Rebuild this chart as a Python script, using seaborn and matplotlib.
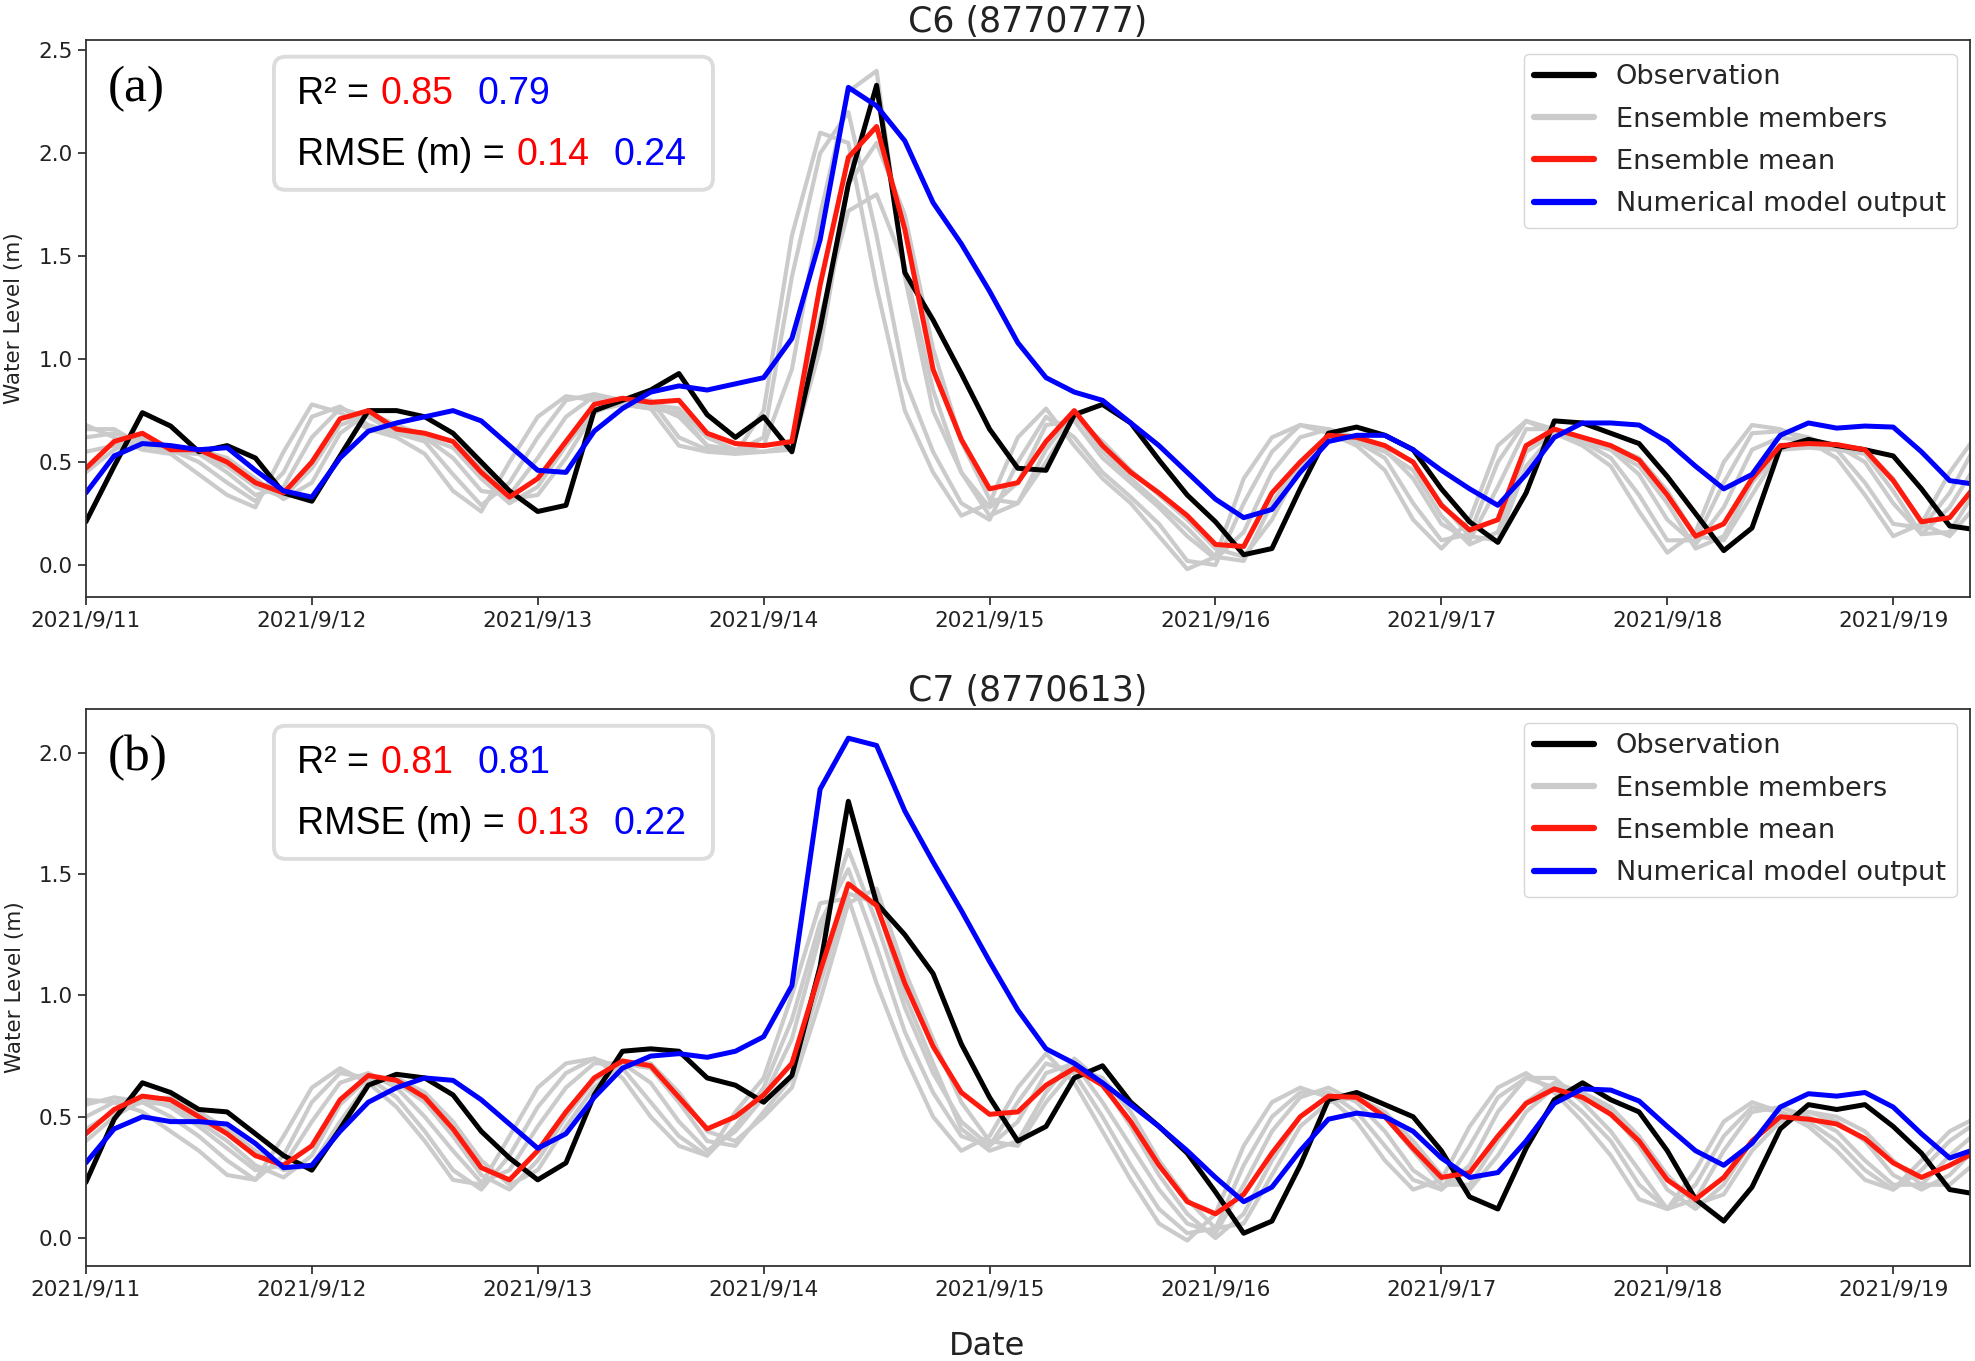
import pandas as pd
import seaborn as sns
import matplotlib.pyplot as plt
import matplotlib.dates as mdates
from matplotlib.lines import Line2D
from matplotlib.patches import FancyBboxPatch

# water levels, 3-hourly from 2021-09-11 00:00
times = pd.date_range("2021-09-11 00:00", periods=68, freq="3h")

c6_obs = [0.21, 0.48, 0.74, 0.675, 0.55, 0.58, 0.52, 0.35, 0.31, 0.53,
          0.75, 0.75, 0.72, 0.64, 0.50, 0.36, 0.26, 0.29, 0.75, 0.80,
          0.85, 0.93, 0.73, 0.62, 0.72, 0.55, 1.15, 1.85, 2.33, 1.42,
          1.19, 0.93, 0.66, 0.47, 0.46, 0.73, 0.78, 0.69, 0.51, 0.34,
          0.21, 0.05, 0.08, 0.37, 0.64, 0.67, 0.63, 0.56, 0.37, 0.21,
          0.11, 0.35, 0.70, 0.69, 0.64, 0.59, 0.43, 0.25, 0.07, 0.18,
          0.57, 0.61, 0.58, 0.56, 0.53, 0.37, 0.19, 0.17]
c6_mean = [0.47, 0.60, 0.64, 0.56, 0.56, 0.50, 0.40, 0.35, 0.50, 0.71,
           0.75, 0.66, 0.64, 0.60, 0.45, 0.33, 0.42, 0.60, 0.78, 0.81,
           0.79, 0.80, 0.64, 0.59, 0.58, 0.60, 1.36, 1.98, 2.13, 1.63,
           0.95, 0.61, 0.37, 0.40, 0.60, 0.75, 0.58, 0.45, 0.35, 0.24,
           0.10, 0.09, 0.35, 0.50, 0.63, 0.62, 0.58, 0.50, 0.29, 0.17,
           0.22, 0.58, 0.66, 0.62, 0.58, 0.51, 0.34, 0.14, 0.20, 0.42,
           0.58, 0.59, 0.585, 0.56, 0.41, 0.21, 0.23, 0.40]
c6_model = [0.35, 0.53, 0.59, 0.58, 0.56, 0.57, 0.46, 0.36, 0.33, 0.52,
            0.65, 0.69, 0.72, 0.75, 0.70, 0.58, 0.46, 0.45, 0.65, 0.76,
            0.84, 0.87, 0.85, 0.88, 0.91, 1.10, 1.58, 2.32, 2.23, 2.06,
            1.76, 1.56, 1.33, 1.08, 0.91, 0.84, 0.80, 0.69, 0.58, 0.45,
            0.32, 0.23, 0.27, 0.45, 0.60, 0.63, 0.63, 0.56, 0.46, 0.37,
            0.29, 0.44, 0.62, 0.69, 0.69, 0.68, 0.60, 0.48, 0.37, 0.44,
            0.63, 0.69, 0.665, 0.675, 0.67, 0.55, 0.41, 0.39]
c6_member_1 = [0.66, 0.66, 0.58, 0.56, 0.50, 0.40, 0.31, 0.45, 0.72, 0.77,
               0.68, 0.64, 0.60, 0.44, 0.29, 0.40, 0.62, 0.80, 0.83, 0.80,
               0.80, 0.62, 0.56, 0.55, 0.62, 1.40, 2.00, 2.20, 1.60, 0.90,
               0.55, 0.30, 0.22, 0.50, 0.72, 0.62, 0.45, 0.33, 0.20, 0.02,
               0.00, 0.30, 0.55, 0.68, 0.66, 0.60, 0.52, 0.30, 0.12, 0.15,
               0.50, 0.70, 0.66, 0.60, 0.52, 0.34, 0.12, 0.12, 0.40, 0.64,
               0.65, 0.62, 0.56, 0.40, 0.20, 0.18, 0.35, 0.60]
c6_member_2 = [0.62, 0.64, 0.60, 0.55, 0.54, 0.45, 0.34, 0.38, 0.62, 0.76,
               0.72, 0.64, 0.62, 0.52, 0.36, 0.34, 0.52, 0.72, 0.82, 0.80,
               0.78, 0.72, 0.58, 0.56, 0.58, 0.95, 1.70, 2.30, 2.40, 1.40,
               0.75, 0.45, 0.28, 0.40, 0.68, 0.70, 0.52, 0.40, 0.28, 0.14,
               0.03, 0.16, 0.45, 0.62, 0.66, 0.62, 0.56, 0.42, 0.20, 0.12,
               0.38, 0.66, 0.66, 0.62, 0.56, 0.44, 0.22, 0.10, 0.28, 0.56,
               0.62, 0.60, 0.58, 0.50, 0.30, 0.15, 0.28, 0.50]
c6_member_3 = [0.55, 0.58, 0.60, 0.55, 0.54, 0.48, 0.38, 0.33, 0.47, 0.68,
               0.73, 0.64, 0.62, 0.57, 0.42, 0.30, 0.38, 0.58, 0.75, 0.78,
               0.76, 0.74, 0.58, 0.54, 0.55, 0.58, 1.20, 1.72, 1.80, 1.45,
               0.85, 0.45, 0.24, 0.30, 0.56, 0.74, 0.55, 0.42, 0.30, 0.18,
               0.04, 0.02, 0.30, 0.50, 0.62, 0.60, 0.55, 0.46, 0.24, 0.10,
               0.16, 0.55, 0.64, 0.60, 0.56, 0.48, 0.30, 0.08, 0.14, 0.40,
               0.56, 0.57, 0.56, 0.54, 0.36, 0.15, 0.16, 0.38]
c6_member_4 = [0.68, 0.62, 0.56, 0.54, 0.44, 0.34, 0.28, 0.55, 0.78, 0.74,
               0.66, 0.62, 0.54, 0.36, 0.26, 0.50, 0.72, 0.82, 0.80, 0.78,
               0.76, 0.58, 0.55, 0.54, 0.75, 1.60, 2.10, 2.05, 1.35, 0.75,
               0.45, 0.24, 0.30, 0.62, 0.76, 0.58, 0.42, 0.30, 0.14, -0.02,
               0.04, 0.42, 0.62, 0.68, 0.64, 0.58, 0.46, 0.22, 0.08, 0.22,
               0.58, 0.70, 0.64, 0.58, 0.48, 0.26, 0.06, 0.16, 0.50, 0.68,
               0.66, 0.60, 0.52, 0.34, 0.14, 0.20, 0.45, 0.64]
c6_member_5 = [0.45, 0.56, 0.62, 0.57, 0.56, 0.52, 0.42, 0.32, 0.40, 0.64,
               0.74, 0.68, 0.63, 0.60, 0.48, 0.32, 0.34, 0.52, 0.74, 0.80,
               0.78, 0.76, 0.62, 0.56, 0.55, 0.56, 1.05, 1.85, 2.05, 1.70,
               1.05, 0.60, 0.32, 0.30, 0.50, 0.72, 0.60, 0.46, 0.34, 0.22,
               0.08, 0.04, 0.22, 0.48, 0.62, 0.62, 0.58, 0.50, 0.30, 0.14,
               0.12, 0.48, 0.64, 0.62, 0.58, 0.52, 0.36, 0.14, 0.12, 0.34,
               0.56, 0.58, 0.57, 0.56, 0.42, 0.20, 0.14, 0.30]

c7_obs = [0.23, 0.49, 0.64, 0.60, 0.53, 0.52, 0.43, 0.34, 0.28, 0.45,
          0.63, 0.675, 0.66, 0.59, 0.44, 0.33, 0.24, 0.31, 0.59, 0.77,
          0.78, 0.77, 0.66, 0.63, 0.56, 0.67, 1.12, 1.80, 1.38, 1.25,
          1.09, 0.80, 0.58, 0.40, 0.46, 0.66, 0.71, 0.56, 0.46, 0.35,
          0.19, 0.02, 0.07, 0.30, 0.57, 0.60, 0.55, 0.50, 0.36, 0.17,
          0.12, 0.37, 0.57, 0.64, 0.57, 0.52, 0.36, 0.16, 0.07, 0.21,
          0.45, 0.55, 0.53, 0.55, 0.46, 0.35, 0.20, 0.18]
c7_mean = [0.43, 0.53, 0.585, 0.57, 0.50, 0.43, 0.34, 0.30, 0.38, 0.57,
           0.67, 0.65, 0.58, 0.45, 0.29, 0.24, 0.36, 0.52, 0.66, 0.73,
           0.71, 0.58, 0.45, 0.50, 0.59, 0.72, 1.10, 1.46, 1.37, 1.05,
           0.79, 0.60, 0.51, 0.52, 0.63, 0.70, 0.63, 0.48, 0.30, 0.15,
           0.10, 0.18, 0.35, 0.50, 0.585, 0.58, 0.50, 0.37, 0.25, 0.27,
           0.42, 0.555, 0.615, 0.58, 0.51, 0.40, 0.24, 0.16, 0.25, 0.40,
           0.50, 0.49, 0.47, 0.41, 0.31, 0.25, 0.30, 0.36]
c7_model = [0.31, 0.45, 0.50, 0.48, 0.48, 0.47, 0.39, 0.29, 0.30, 0.44,
            0.56, 0.62, 0.66, 0.65, 0.57, 0.47, 0.37, 0.43, 0.58, 0.70,
            0.75, 0.76, 0.745, 0.77, 0.83, 1.04, 1.85, 2.06, 2.03, 1.76,
            1.55, 1.35, 1.14, 0.94, 0.78, 0.72, 0.64, 0.55, 0.46, 0.36,
            0.25, 0.15, 0.21, 0.36, 0.49, 0.515, 0.50, 0.44, 0.33, 0.25,
            0.27, 0.40, 0.555, 0.615, 0.61, 0.565, 0.46, 0.36, 0.30, 0.39,
            0.54, 0.595, 0.585, 0.60, 0.54, 0.43, 0.33, 0.37]
c7_member_1 = [0.55, 0.58, 0.56, 0.50, 0.42, 0.32, 0.24, 0.34, 0.56, 0.68,
               0.66, 0.58, 0.44, 0.28, 0.20, 0.34, 0.54, 0.68, 0.74, 0.70,
               0.56, 0.42, 0.34, 0.46, 0.62, 0.90, 1.30, 1.52, 1.20, 0.85,
               0.60, 0.42, 0.38, 0.56, 0.72, 0.68, 0.50, 0.30, 0.12, 0.02,
               0.04, 0.30, 0.50, 0.60, 0.60, 0.52, 0.38, 0.24, 0.20, 0.38,
               0.58, 0.66, 0.62, 0.52, 0.40, 0.22, 0.12, 0.22, 0.42, 0.54,
               0.52, 0.48, 0.40, 0.28, 0.20, 0.28, 0.40, 0.48]
c7_member_2 = [0.50, 0.56, 0.58, 0.54, 0.46, 0.37, 0.28, 0.30, 0.48, 0.64,
               0.68, 0.62, 0.50, 0.36, 0.23, 0.28, 0.46, 0.62, 0.72, 0.72,
               0.64, 0.48, 0.36, 0.44, 0.58, 0.82, 1.25, 1.60, 1.30, 0.95,
               0.68, 0.48, 0.38, 0.48, 0.68, 0.72, 0.56, 0.38, 0.20, 0.06,
               0.02, 0.22, 0.44, 0.58, 0.62, 0.56, 0.44, 0.28, 0.20, 0.30,
               0.52, 0.66, 0.66, 0.56, 0.44, 0.28, 0.12, 0.16, 0.36, 0.52,
               0.54, 0.50, 0.44, 0.32, 0.22, 0.22, 0.34, 0.44]
c7_member_3 = [0.45, 0.52, 0.56, 0.55, 0.48, 0.40, 0.30, 0.25, 0.34, 0.55,
               0.66, 0.64, 0.56, 0.42, 0.26, 0.20, 0.32, 0.50, 0.65, 0.72,
               0.70, 0.56, 0.40, 0.38, 0.52, 0.66, 1.05, 1.42, 1.38, 1.00,
               0.72, 0.45, 0.36, 0.40, 0.60, 0.74, 0.64, 0.46, 0.26, 0.10,
               0.00, 0.10, 0.32, 0.50, 0.58, 0.58, 0.50, 0.36, 0.22, 0.22,
               0.40, 0.56, 0.64, 0.60, 0.52, 0.38, 0.20, 0.12, 0.22, 0.40,
               0.50, 0.52, 0.48, 0.40, 0.26, 0.20, 0.26, 0.38]
c7_member_4 = [0.57, 0.56, 0.52, 0.44, 0.36, 0.26, 0.24, 0.42, 0.62, 0.70,
               0.64, 0.54, 0.40, 0.24, 0.22, 0.42, 0.62, 0.72, 0.74, 0.66,
               0.50, 0.38, 0.34, 0.52, 0.66, 1.00, 1.38, 1.40, 1.05, 0.75,
               0.50, 0.36, 0.42, 0.62, 0.76, 0.64, 0.44, 0.24, 0.06, -0.01,
               0.10, 0.38, 0.56, 0.62, 0.58, 0.48, 0.32, 0.20, 0.24, 0.46,
               0.62, 0.68, 0.60, 0.48, 0.34, 0.16, 0.12, 0.28, 0.48, 0.56,
               0.52, 0.46, 0.36, 0.24, 0.20, 0.32, 0.44, 0.50]
c7_member_5 = [0.40, 0.50, 0.57, 0.58, 0.52, 0.45, 0.36, 0.28, 0.30, 0.48,
               0.64, 0.66, 0.60, 0.48, 0.32, 0.22, 0.28, 0.46, 0.62, 0.72,
               0.72, 0.60, 0.44, 0.40, 0.50, 0.62, 0.98, 1.38, 1.44, 1.10,
               0.82, 0.56, 0.40, 0.38, 0.56, 0.70, 0.66, 0.52, 0.32, 0.16,
               0.04, 0.06, 0.26, 0.46, 0.56, 0.58, 0.52, 0.40, 0.26, 0.20,
               0.34, 0.52, 0.62, 0.60, 0.54, 0.42, 0.26, 0.14, 0.18, 0.36,
               0.48, 0.52, 0.50, 0.44, 0.32, 0.22, 0.22, 0.32]

c6_stats = {"r2": ("0.85", "0.79"), "rmse": ("0.14", "0.24")}
c7_stats = {"r2": ("0.81", "0.81"), "rmse": ("0.13", "0.22")}

GRAY = "#cbcbcb"
LABELS = ["Observation", "Ensemble members", "Ensemble mean", "Numerical model output"]

sns.set_style("ticks", {"axes.edgecolor": "#333333", "xtick.color": "#333333",
                        "ytick.color": "#333333"})
plt.rcParams["font.family"] = ["DejaVu Sans"]


def stat_line(ax, y, head, vals):
    t = ax.text(0.112, y, head, transform=ax.transAxes, fontsize=27,
                family="Liberation Sans", color="black", zorder=6)
    t = ax.annotate(vals[0], xy=(1, 0), xycoords=t, xytext=(8.5, 0),
                    textcoords="offset points", va="bottom", ha="left",
                    fontsize=27, family="Liberation Sans", color="red", zorder=6)
    ax.annotate(vals[1], xy=(1, 0), xycoords=t, xytext=(17, 0),
                textcoords="offset points", va="bottom", ha="left",
                fontsize=27, family="Liberation Sans", color="blue", zorder=6)


def draw_panel(ax, title, tag, obs, members, mean, model, stats, ylim, yticks):
    mem_df = pd.concat([pd.DataFrame({"time": times, "level": m, "member": i})
                        for i, m in enumerate(members)])
    sns.lineplot(data=mem_df, x="time", y="level", units="member", estimator=None,
                 color=GRAY, lw=3, ax=ax, legend=False)
    sns.lineplot(x=times, y=obs, color="black", lw=3.6, ax=ax)
    sns.lineplot(x=times, y=mean, color="#ff1a0e", lw=3.6, ax=ax)
    sns.lineplot(x=times, y=model, color="#0000ff", lw=3.6, ax=ax)

    ax.set_xlim(pd.Timestamp("2021-09-11 00:00"), pd.Timestamp("2021-09-19 08:10"))
    ax.set_ylim(*ylim)
    ax.set_yticks(yticks)
    ax.xaxis.set_major_locator(mdates.DayLocator())
    ax.xaxis.set_major_formatter(mdates.DateFormatter("%Y/%-m/%-d"))
    ax.tick_params(labelsize=15.5, length=6, width=1.2, colors="#222222")
    for s in ax.spines.values():
        s.set_linewidth(1.3)
    ax.set_title(title, fontsize=25, color="#222222")
    ax.set_ylabel("Water Level (m)", fontsize=15.5, labelpad=10, color="#222222")
    ax.set_xlabel("")

    handles = [Line2D([], [], color=c, lw=4.5) for c in ["black", GRAY, "#ff1a0e", "#0000ff"]]
    ax.legend(handles, LABELS, loc="upper right", fontsize=19.5, handlelength=2.2,
              labelspacing=0.6, borderaxespad=0.5)

    ax.text(0.0117, 0.89, tag, transform=ax.transAxes, fontsize=37,
            family="Liberation Serif", color="black", zorder=6)
    box = FancyBboxPatch((0.0998, 0.731), 0.233, 0.239, transform=ax.transAxes,
                         boxstyle="round,pad=0,rounding_size=0.006",
                         mutation_aspect=3.38, facecolor="white",
                         edgecolor="#dcdcdc", lw=2.8, zorder=5)
    ax.add_patch(box)
    stat_line(ax, 0.885, "R² =", stats["r2"])
    stat_line(ax, 0.776, "RMSE (m) =", stats["rmse"])


fig = plt.figure(figsize=(19.75, 13.61), dpi=100)
ax_top = fig.add_axes([0.0435, 0.5614, 0.954, 0.4092])
ax_bot = fig.add_axes([0.0435, 0.0698, 0.954, 0.4092])

draw_panel(ax_top, "C6 (8770777)", "(a)", c6_obs,
           [c6_member_1, c6_member_2, c6_member_3, c6_member_4, c6_member_5],
           c6_mean, c6_model, c6_stats, (-0.155, 2.55), [0.0, 0.5, 1.0, 1.5, 2.0, 2.5])
draw_panel(ax_bot, "C7 (8770613)", "(b)", c7_obs,
           [c7_member_1, c7_member_2, c7_member_3, c7_member_4, c7_member_5],
           c7_mean, c7_model, c7_stats, (-0.115, 2.18), [0.0, 0.5, 1.0, 1.5, 2.0])
fig.text(0.5, 0.011, "Date", ha="center", va="center", fontsize=23, color="#222222")

fig.savefig("out.png", dpi=100)
